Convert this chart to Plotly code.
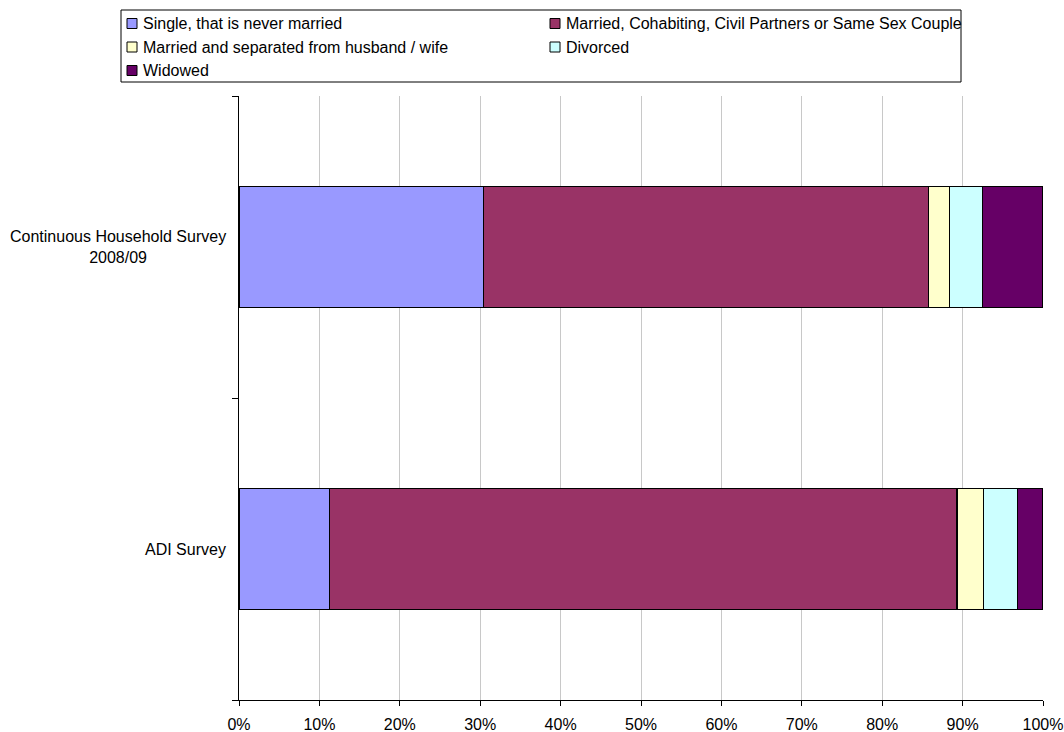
import plotly.graph_objects as go

categories = ["ADI Survey", "Continuous Household Survey<br>2008/09"]
series_names = [
    "Single, that is never married",
    "Married, Cohabiting, Civil Partners or Same Sex Couple",
    "Married and separated from husband / wife",
    "Divorced",
    "Widowed",
]
# values in percent, order matches categories (ADI, CHS)
single = [11.3, 30.4]
married = [78.0, 55.4]
separated = [3.3, 2.6]
divorced = [4.2, 4.1]
widowed = [3.2, 7.5]
series_values = [single, married, separated, divorced, widowed]
colors = ["#9999FF", "#993366", "#FFFFCC", "#CCFFFF", "#660066"]
x_ticks = list(range(0, 101, 10))
x_tick_labels = [f"{v}%" for v in x_ticks]

FONT = "Liberation Sans, Arial, sans-serif"
W, H = 1064, 732
L, R, T, B = 239, 21, 96, 32
PW, PH = W - L - R, H - T - B

fig = go.Figure()
for name, vals, col in zip(series_names, series_values, colors):
    fig.add_trace(go.Bar(
        y=categories, x=vals, name=name, orientation="h",
        width=0.4, marker=dict(color=col, line=dict(color="#000000", width=1.2)),
        showlegend=False, hoverinfo="x+name",
    ))

def px2x(px):
    return (px - L) / PW

def py2y(py):
    return (H - B - py) / PH

shapes = []
annotations = []
# legend box
shapes.append(dict(type="rect", xref="paper", yref="paper",
                   x0=px2x(121), x1=px2x(961), y0=py2y(82), y1=py2y(10),
                   line=dict(color="#000000", width=1), fillcolor="rgba(0,0,0,0)"))
leg_pos = [(127, 23.5), (550, 23.5), (127, 47), (550, 47), (127, 70.5)]
for (mx, my), name, col in zip(leg_pos, series_names, colors):
    shapes.append(dict(type="rect", xref="paper", yref="paper",
                       x0=px2x(mx), x1=px2x(mx + 10), y0=py2y(my + 5), y1=py2y(my - 5),
                       line=dict(color="#000000", width=1), fillcolor=col))
    annotations.append(dict(text=name, xref="paper", yref="paper",
                            x=px2x(mx + 14), y=py2y(my), xanchor="left", yanchor="middle",
                            showarrow=False, font=dict(family=FONT, size=16, color="#000000")))

for cat in categories:
    annotations.append(dict(text=cat, xref="paper", yref="y", x=0, y=cat,
                            xanchor="right", yanchor="middle", xshift=-11, align="center",
                            showarrow=False, font=dict(family=FONT, size=16, color="#000000")))

fig.update_layout(
    width=W, height=H,
    margin=dict(l=L, r=R, t=T, b=B),
    barmode="stack",
    plot_bgcolor="#FFFFFF", paper_bgcolor="#FFFFFF",
    font=dict(family=FONT, size=16, color="#000000"),
    shapes=shapes, annotations=annotations,
    showlegend=False,
)
fig.update_xaxes(
    range=[0, 100], tickvals=x_ticks, ticktext=x_tick_labels,
    showgrid=True, gridcolor="#C8C8C8", gridwidth=1, zeroline=False,
    showline=True, linecolor="#000000", linewidth=1,
    ticks="outside", ticklen=5, tickcolor="#000000",
    tickfont=dict(family=FONT, size=16, color="#000000"),
    ticklabelstandoff=5, automargin=False,
)
fig.update_yaxes(
    type="category", categoryorder="array", categoryarray=categories,
    range=[-0.5, 1.5], showticklabels=False,
    showgrid=False, zeroline=False,
    showline=True, linecolor="#000000", linewidth=1,
    ticks="outside", ticklen=6, tickcolor="#000000", tickson="boundaries",
    automargin=False,
)

fig.write_html("out.html")
